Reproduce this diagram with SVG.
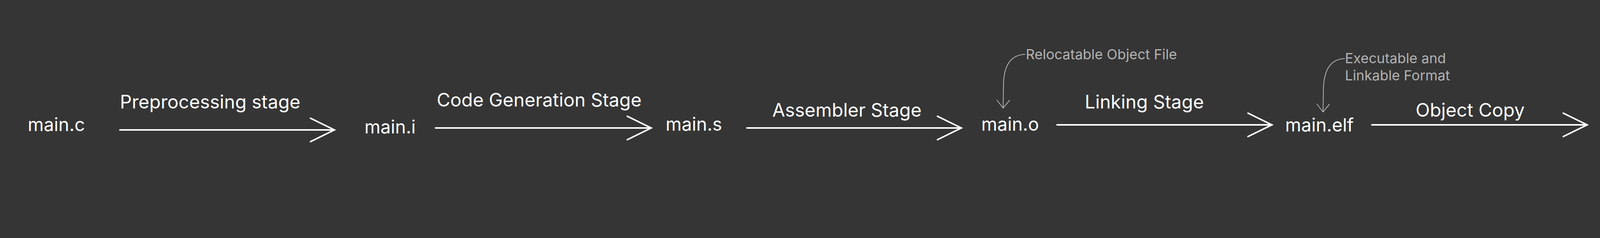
<svg xmlns="http://www.w3.org/2000/svg" width="4370" height="610" viewBox="0 0 4370 610">
<defs>
<style>
.node{font-family:Inter,"Liberation Sans",sans-serif;font-size:46.8px;fill:#ffffff}
.lbl{font-family:Inter,"Liberation Sans",sans-serif;font-size:47.6px;fill:#ffffff}
.note{font-family:Inter,"Liberation Sans",sans-serif;font-size:35.7px;fill:#b3b3b3}
.conn{fill:none;stroke:#ffffff;stroke-width:4;stroke-linecap:round}
.nconn{fill:none;stroke:#b3b3b3;stroke-width:2;stroke-linecap:round}
</style>
<marker id="ah" markerUnits="userSpaceOnUse" viewBox="0 0 70 70" markerWidth="70" markerHeight="70" refX="63" refY="35" orient="auto">
<path d="M2 5 L63 35 L2 65" fill="none" stroke="#ffffff" stroke-width="4" stroke-linecap="round"/>
</marker>
<marker id="ahs" markerUnits="userSpaceOnUse" viewBox="0 0 40 40" markerWidth="40" markerHeight="40" refX="30" refY="20" orient="auto">
<path d="M10 4 L30 20 L10 36" fill="none" stroke="#b3b3b3" stroke-width="2" stroke-linecap="round"/>
</marker>
</defs>
<rect width="4370" height="610" fill="#353535"/>
<g id="connectors">
<line class="conn" x1="307" y1="333" x2="856" y2="333" marker-end="url(#ah)"/>
<line class="conn" x1="1115" y1="328" x2="1667" y2="328" marker-end="url(#ah)"/>
<line class="conn" x1="1912" y1="328" x2="2461" y2="328" marker-end="url(#ah)"/>
<line class="conn" x1="2706" y1="320" x2="3256" y2="320" marker-end="url(#ah)"/>
<line class="conn" x1="3512" y1="320" x2="4063" y2="320" marker-end="url(#ah)"/>
<path class="nconn" d="M2624 139 C2590 141 2570 165 2569 215 L2568 277" marker-end="url(#ahs)"/>
<path class="nconn" d="M3442 150 C3405 152 3390 180 3388 225 L3387 287" marker-end="url(#ahs)"/>
</g>
<g id="labels">
<text class="lbl" x="307" y="278">Preprocessing stage</text>
<text class="lbl" x="1118" y="273">Code Generation Stage</text>
<text class="lbl" x="1977" y="299">Assembler Stage</text>
<text class="lbl" x="2777" y="278">Linking Stage</text>
<text class="lbl" x="3624" y="299">Object Copy</text>
</g>
<g id="main-c"><text class="node" x="71" y="336">main.c</text></g>
<g id="main-i"><text class="node" x="933" y="342">main.i</text></g>
<g id="main-s"><text class="node" x="1704" y="335">main.s</text></g>
<g id="main-o"><text class="node" x="2512" y="335">main.o</text></g>
<g id="main-elf"><text class="node" x="3290" y="337">main.elf</text></g>
<g id="main-bin"><text class="node" x="4131" y="329">main.bin</text></g>
<g id="note-reloc"><text class="note" x="2626" y="152">Relocatable Object File</text></g>
<g id="note-elf"><text class="note" x="3443" y="162">Executable and<tspan x="3443" y="206">Linkable Format</tspan></text></g>
</svg>
